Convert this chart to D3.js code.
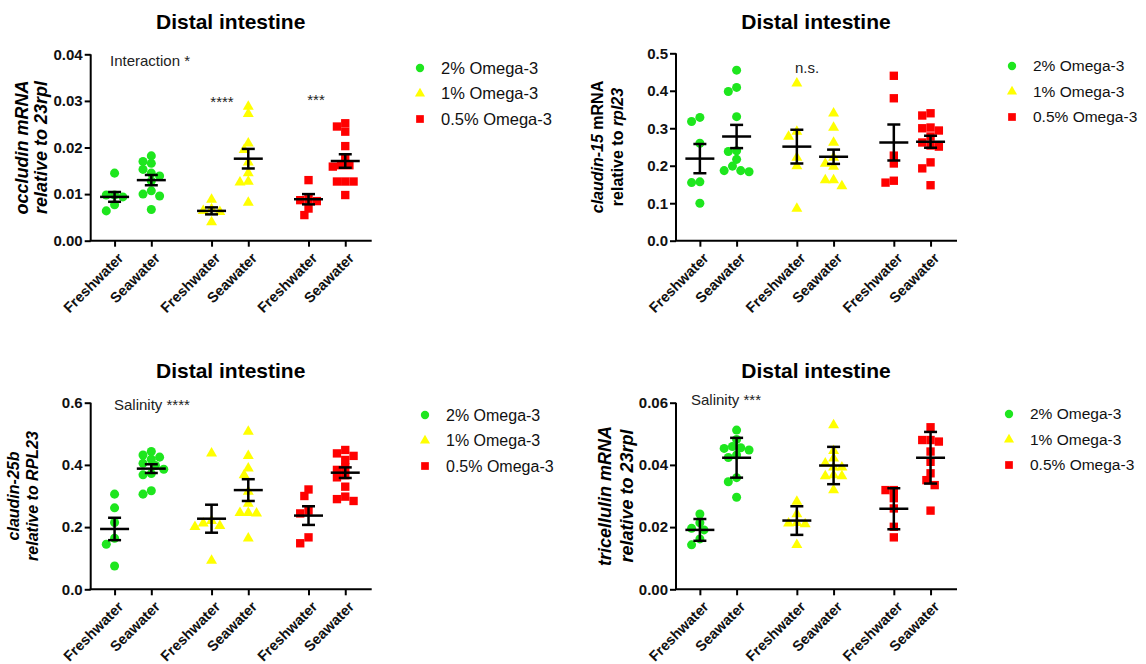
<!DOCTYPE html>
<html lang="en">
<head>
  <meta charset="UTF-8">
  <script src="https://d3js.org/d3.v7.min.js"></script>
  <style>
    body { margin: 0; background: #fff; }
    svg { font-family: Arial, "Liberation Sans", sans-serif; }
  </style>
</head>
<body>
<div id="my_dataviz"></div>
<script>
// categories
var groups = ["Freshwater", "Seawater", "Freshwater", "Seawater", "Freshwater", "Seawater"];
var diets = ["2% Omega-3", "1% Omega-3", "0.5% Omega-3"];
var dietColors = ["#1ee61e", "#ffff00", "#ff0000"];

// occludin (top left)
var occludin = [
  [0.0145, 0.0098, 0.0098, 0.0094, 0.0077, 0.0064],
  [0.0182, 0.0170, 0.0166, 0.0153, 0.0145, 0.0139, 0.0128, 0.0107, 0.0100, 0.0096, 0.0067],
  [0.0088, 0.0068, 0.0064, 0.0062, 0.0040],
  [0.0288, 0.0272, 0.0209, 0.0195, 0.0168, 0.0145, 0.0127, 0.0125, 0.0082],
  [0.0130, 0.0089, 0.0087, 0.0085, 0.0069, 0.0055],
  [0.0252, 0.0245, 0.0234, 0.0203, 0.0177, 0.0162, 0.0162, 0.0159, 0.0127, 0.0127, 0.0127, 0.0098]
];
var occludinMean = [0.0094, 0.0130, 0.0064, 0.0176, 0.0089, 0.0171];
var occludinSem = [0.00105, 0.0011, 0.00075, 0.0021, 0.0011, 0.00145];
var occludinTicks = [0, 0.01, 0.02, 0.03, 0.04];

// claudin-15 (top right)
var claudin15 = [
  [0.329, 0.318, 0.260, 0.157, 0.155, 0.100],
  [0.455, 0.409, 0.398, 0.331, 0.240, 0.238, 0.217, 0.199, 0.187, 0.187, 0.184],
  [0.420, 0.291, 0.278, 0.222, 0.199, 0.086],
  [0.340, 0.302, 0.262, 0.222, 0.206, 0.198, 0.162, 0.162, 0.146],
  [0.440, 0.380, 0.227, 0.206, 0.160, 0.155],
  [0.340, 0.334, 0.302, 0.300, 0.294, 0.278, 0.262, 0.254, 0.251, 0.209, 0.193, 0.148]
];
var claudin15Mean = [0.219, 0.278, 0.251, 0.224, 0.262, 0.264];
var claudin15Sem = [0.039, 0.031, 0.045, 0.019, 0.048, 0.016];
var claudin15Ticks = [0, 0.1, 0.2, 0.3, 0.4, 0.5];

// claudin-25b (bottom left)
var claudin25b = [
  [0.306, 0.262, 0.215, 0.164, 0.145, 0.075],
  [0.443, 0.432, 0.425, 0.418, 0.405, 0.398, 0.386, 0.372, 0.368, 0.317, 0.306],
  [0.437, 0.220, 0.212, 0.204, 0.201, 0.092],
  [0.507, 0.429, 0.389, 0.367, 0.314, 0.276, 0.246, 0.246, 0.244, 0.164],
  [0.321, 0.300, 0.253, 0.244, 0.167, 0.148],
  [0.448, 0.437, 0.429, 0.416, 0.392, 0.384, 0.367, 0.360, 0.330, 0.298, 0.290, 0.284]
];
var claudin25bMean = [0.194, 0.388, 0.227, 0.319, 0.237, 0.375];
var claudin25bSem = [0.036, 0.014, 0.045, 0.035, 0.030, 0.017];
var claudin25bTicks = [0, 0.2, 0.4, 0.6];

// tricellulin (bottom right)
var tricellulin = [
  [0.0242, 0.0214, 0.0196, 0.0191, 0.0162, 0.0143],
  [0.0512, 0.0482, 0.0459, 0.0455, 0.0453, 0.0448, 0.0432, 0.0424, 0.0359, 0.0346, 0.0296],
  [0.0282, 0.0242, 0.0214, 0.0212, 0.0210, 0.0143],
  [0.0528, 0.0445, 0.0421, 0.0405, 0.0392, 0.0392, 0.0367, 0.0364, 0.0364, 0.0319],
  [0.0319, 0.0319, 0.0293, 0.0260, 0.0201, 0.0167],
  [0.0521, 0.0480, 0.0480, 0.0475, 0.0443, 0.0410, 0.0373, 0.0351, 0.0335, 0.0253]
];
var tricellulinMean = [0.0191, 0.0423, 0.0221, 0.0398, 0.0259, 0.0423];
var tricellulinSem = [0.0035, 0.0064, 0.0046, 0.0060, 0.0066, 0.0083];
var tricellulinTicks = [0, 0.02, 0.04, 0.06];

// slot index of each column: pairs, wider gap between diets
var slots = [0, 1, 2.64, 3.64, 5.28, 6.28];

var panels = [
  { data: occludin, mean: occludinMean, sem: occludinSem, ticks: occludinTicks, fmt: ".2f",
    ox: 90.7, top: 54.3, bottom: 240.7, titleY: 29,
    ylab: [[["occludin mRNA", 1]], [["relative to 23rpl", 1]]], ylabX: [22, 41], ylabSize: 18,
    notes: [{ t: "Interaction *", x: 110, y: 66, size: 15, anchor: "start" },
            { t: "****", x: 222, y: 107, size: 15, anchor: "middle" },
            { t: "***", x: 316, y: 105, size: 15, anchor: "middle" }],
    legX: 420, legY: 68, legSize: 16.5 },
  { data: claudin15, mean: claudin15Mean, sem: claudin15Sem, ticks: claudin15Ticks, fmt: ".1f",
    ox: 676, top: 53.3, bottom: 240.7, titleY: 29,
    ylab: [[["claudin-15", 1], [" mRNA", 0]], [["relative to ", 0], ["rpl23", 1]]], ylabX: [597, 617], ylabSize: 16,
    notes: [{ t: "n.s.", x: 795, y: 73, size: 15, anchor: "start" }],
    legX: 1012, legY: 66, legSize: 15.5 },
  { data: claudin25b, mean: claudin25bMean, sem: claudin25bSem, ticks: claudin25bTicks, fmt: ".1f",
    ox: 90.7, top: 402.7, bottom: 589.3, titleY: 378,
    ylab: [[["claudin-25b", 1]], [["relative to RPL23", 1]]], ylabX: [13, 32], ylabSize: 16,
    notes: [{ t: "Salinity ****", x: 114, y: 410, size: 15, anchor: "start" }],
    legX: 425, legY: 415, legSize: 16 },
  { data: tricellulin, mean: tricellulinMean, sem: tricellulinSem, ticks: tricellulinTicks, fmt: ".2f",
    ox: 676, top: 402.7, bottom: 589.3, titleY: 378,
    ylab: [[["tricellulin mRNA", 1]], [["relative to 23rpl", 1]]], ylabX: [605, 627], ylabSize: 18,
    notes: [{ t: "Salinity ***", x: 691, y: 405, size: 15, anchor: "start" }],
    legX: 1009, legY: 414, legSize: 15.5 }
];

var svg = d3.select("#my_dataviz")
  .append("svg")
  .attr("width", 1146)
  .attr("height", 664);

var plotWidth = 281;
var symbolTypes = [d3.symbolCircle, d3.symbolTriangle, d3.symbolSquare];
var symbolSizes = [64, 52, 70];

// simple beeswarm: spread points that would overlap
function swarm(values, y, d) {
  var order = values.map(function(v, i) { return i; })
    .sort(function(a, b) { return values[b] - values[a]; });
  var placed = [];
  var offs = new Array(values.length);
  var cands = [0, -0.5, 0.5, -1, 1, -1.5, 1.5, -2, 2];
  order.forEach(function(i) {
    var py = y(values[i]);
    for (var k = 0; k < cands.length; k++) {
      var px = cands[k] * d;
      var ok = placed.every(function(p) {
        var dx = p[0] - px, dy = p[1] - py;
        return dx * dx + dy * dy >= d * d * 0.8;
      });
      if (ok || k == cands.length - 1) { offs[i] = px; placed.push([px, py]); break; }
    }
  });
  return offs;
}

panels.forEach(function(p) {
  var g = svg.append("g");

  var x = d3.scaleLinear()
    .domain([-0.65, 7.0])
    .range([p.ox, p.ox + plotWidth]);

  var yMax = p.ticks[p.ticks.length - 1];
  var y = d3.scaleLinear()
    .domain([0, yMax])
    .range([p.bottom, p.top]);

  // title
  g.append("text")
    .attr("x", p.ox + 140)
    .attr("y", p.titleY)
    .attr("text-anchor", "middle")
    .style("font-size", "21px")
    .style("font-weight", "bold")
    .text("Distal intestine");

  // y axis
  var yAxis = g.append("g")
    .attr("transform", "translate(" + p.ox + ",0)")
    .call(d3.axisLeft(y).tickValues(p.ticks).tickFormat(d3.format(p.fmt)).tickSize(6).tickPadding(2));
  yAxis.select(".domain").attr("stroke-width", 2).attr("d", "M0," + p.top + "V" + p.bottom);
  yAxis.selectAll(".tick line").attr("stroke-width", 2);
  yAxis.selectAll("text")
    .style("font-size", "15px")
    .style("font-weight", "bold")
    .style("font-family", "Arial, 'Liberation Sans', sans-serif")
    .attr("fill", "#111");

  // x axis
  var xAxis = g.append("g")
    .attr("transform", "translate(0," + p.bottom + ")")
    .call(d3.axisBottom(x).tickValues(slots).tickFormat(function(d, i) { return groups[i]; }).tickSize(6).tickPadding(2));
  xAxis.select(".domain").attr("stroke-width", 2).attr("d", "M" + (p.ox - 1) + ",0H" + (p.ox + plotWidth));
  xAxis.selectAll(".tick line").attr("stroke-width", 2);
  xAxis.selectAll("text")
    .style("font-size", "14.5px")
    .style("font-weight", "bold")
    .style("font-family", "Arial, 'Liberation Sans', sans-serif")
    .attr("fill", "#111")
    .attr("text-anchor", "end")
    .attr("dy", "0.35em")
    .attr("transform", "translate(0,9)rotate(-45)");

  // y label
  p.ylab.forEach(function(line, li) {
    var t = g.append("text")
      .attr("transform", "translate(" + p.ylabX[li] + "," + ((p.top + p.bottom) / 2) + ")rotate(-90)")
      .attr("text-anchor", "middle")
      .attr("dy", "0.35em")
      .style("font-size", p.ylabSize + "px")
      .style("font-weight", "bold");
    line.forEach(function(part) {
      t.append("tspan")
        .style("font-style", part[1] ? "italic" : "normal")
        .text(part[0]);
    });
  });

  // points
  p.data.forEach(function(vals, ci) {
    var diet = Math.floor(ci / 2);
    var offs = swarm(vals, y, 8.3);
    g.selectAll(null)
      .data(vals)
      .enter()
      .append("path")
        .attr("d", d3.symbol().type(symbolTypes[diet]).size(symbolSizes[diet]))
        .attr("transform", function(d, i) {
          return "translate(" + (x(slots[ci]) + offs[i]) + "," + y(d) + ")";
        })
        .attr("fill", dietColors[diet]);
  });

  // mean and SEM
  p.mean.forEach(function(m, ci) {
    var cx = x(slots[ci]);
    var s = p.sem[ci];
    g.append("line")
      .attr("x1", cx - 14.5).attr("x2", cx + 14.5)
      .attr("y1", y(m)).attr("y2", y(m))
      .attr("stroke", "#000").attr("stroke-width", 2.5);
    g.append("line")
      .attr("x1", cx).attr("x2", cx)
      .attr("y1", y(m - s)).attr("y2", y(m + s))
      .attr("stroke", "#000").attr("stroke-width", 2.5);
    [m - s, m + s].forEach(function(v) {
      g.append("line")
        .attr("x1", cx - 6.5).attr("x2", cx + 6.5)
        .attr("y1", y(v)).attr("y2", y(v))
        .attr("stroke", "#000").attr("stroke-width", 2.5);
    });
  });

  // annotations
  p.notes.forEach(function(n) {
    g.append("text")
      .attr("x", n.x)
      .attr("y", n.y)
      .attr("text-anchor", n.anchor)
      .style("font-size", n.size + "px")
      .attr("fill", "#222")
      .text(n.t);
  });

  // legend
  diets.forEach(function(name, di) {
    var ly = p.legY + di * 25.5;
    g.append("path")
      .attr("d", d3.symbol().type(symbolTypes[di]).size(symbolSizes[di] * 0.85))
      .attr("transform", "translate(" + p.legX + "," + ly + ")")
      .attr("fill", dietColors[di]);
    g.append("text")
      .attr("x", p.legX + 21)
      .attr("y", ly)
      .attr("dy", "0.35em")
      .style("font-size", p.legSize + "px")
      .attr("fill", "#111")
      .text(name);
  });
});
</script>
</body>
</html>
